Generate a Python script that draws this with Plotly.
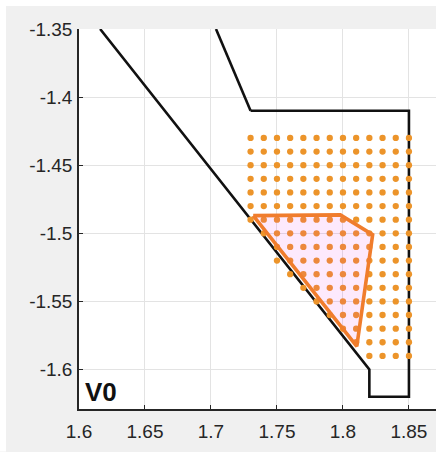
import plotly.graph_objects as go

# Outer boundary, drawn as two open black polylines
bound_a_x = [1.616, 1.82, 1.82, 1.85, 1.85, 1.73, 1.7038]
bound_a_y = [-1.35, -1.60, -1.62, -1.62, -1.41, -1.41, -1.35]

# Sample grid of candidate points: row y values and the first x kept in each row
dot_cols = [1.73, 1.74, 1.75, 1.76, 1.77, 1.78, 1.79, 1.80, 1.81, 1.82, 1.83, 1.84, 1.85]
dot_rows = [-1.43, -1.44, -1.45, -1.46, -1.47, -1.48, -1.49, -1.50, -1.51,
            -1.52, -1.53, -1.54, -1.55, -1.56, -1.57, -1.58, -1.59]
dot_row_start = [1.73, 1.73, 1.73, 1.73, 1.73, 1.73, 1.73, 1.74, 1.75,
                 1.75, 1.76, 1.77, 1.78, 1.79, 1.80, 1.81, 1.82]

# Highlighted region (closed polygon)
region_x = [1.732, 1.798, 1.8225, 1.8105, 1.732]
region_y = [-1.487, -1.4865, -1.501, -1.583, -1.487]

x_ticks = [1.6, 1.65, 1.7, 1.75, 1.8, 1.85]
y_ticks = [-1.6, -1.55, -1.5, -1.45, -1.4, -1.35]

dots_x, dots_y = [], []
for y, x0 in zip(dot_rows, dot_row_start):
    for x in dot_cols:
        if x >= x0 - 1e-9:
            dots_x.append(x)
            dots_y.append(y)

fig = go.Figure()
fig.add_trace(go.Scatter(x=bound_a_x[:6], y=bound_a_y[:6], mode="lines",
                         line=dict(color="#111111", width=2.6), hoverinfo="skip"))
fig.add_trace(go.Scatter(x=bound_a_x[5:], y=bound_a_y[5:], mode="lines",
                         line=dict(color="#111111", width=2.6), hoverinfo="skip"))
fig.add_trace(go.Scatter(x=dots_x, y=dots_y, mode="markers",
                         marker=dict(color="#EC942A", size=6.3, line=dict(width=0))))
fig.add_trace(go.Scatter(x=region_x, y=region_y, mode="lines", fill="toself",
                         fillcolor="rgba(240,40,230,0.10)",
                         line=dict(color="#F07D2D", width=3.6)))

font = dict(family="Liberation Sans, Arial, sans-serif", size=19, color="#262626")

fig.update_layout(
    width=436, height=452,
    margin=dict(l=79, r=0, t=29, b=42.5),
    paper_bgcolor="#f0f0f0",
    plot_bgcolor="white",
    showlegend=False,
    font=font,
    xaxis=dict(range=[1.6, 1.8705], tickvals=x_ticks, ticktext=[f"{v:g}" for v in x_ticks],
               showgrid=True, gridcolor="#e3e3e3", gridwidth=1, zeroline=False,
               showline=True, linecolor="#262626", linewidth=1.5,
               ticks="inside", ticklen=4, tickcolor="#262626", tickfont=font,
               ticklabelstandoff=4),
    yaxis=dict(range=[-1.629, -1.35], tickvals=y_ticks, ticktext=[f"{v:g}" for v in y_ticks],
               showgrid=True, gridcolor="#e3e3e3", gridwidth=1, zeroline=False,
               showline=True, linecolor="#262626", linewidth=1.5,
               ticks="inside", ticklen=4, tickcolor="#262626", tickfont=font,
               ticklabelstandoff=1),
    shapes=[
        dict(type="rect", xref="paper", yref="paper", x0=-79/357, x1=1.0,
             y0=1 + 23/380.5, y1=1 + 29/380.5, fillcolor="white", line=dict(width=0), layer="below"),
        dict(type="rect", xref="paper", yref="paper", x0=-79/357, x1=-73/357,
             y0=-42.5/380.5, y1=1 + 29/380.5, fillcolor="white", line=dict(width=0), layer="below"),
    ],
    annotations=[dict(text="<b>V0</b>", x=1.6, y=-1.629, xref="x", yref="y",
                      xanchor="left", yanchor="bottom", showarrow=False, xshift=4, yshift=0,
                      font=dict(family="Liberation Sans, Arial, sans-serif", size=26, color="#111111"))],
)

fig.write_html("out.html")
